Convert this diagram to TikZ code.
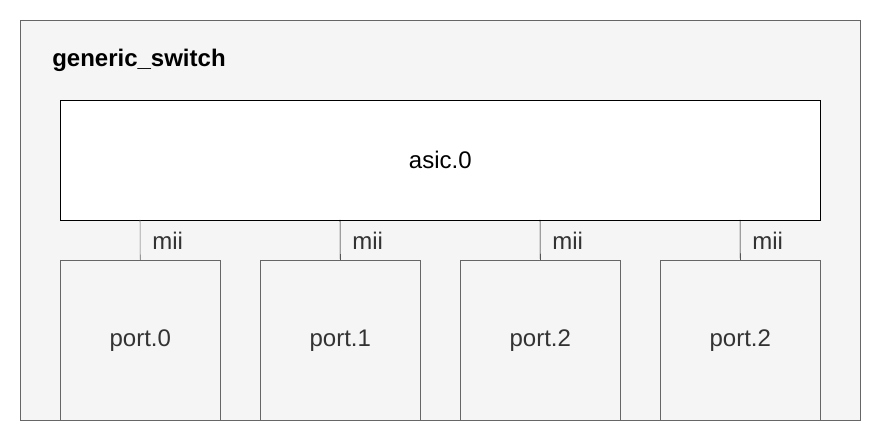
\documentclass[tikz,border=0pt]{standalone}
\usepackage{fontspec}
\setmainfont{Liberation Sans}
\usetikzlibrary{positioning}
\definecolor{myframe}{RGB}{102,102,102}
\definecolor{myfill}{RGB}{245,245,245}
\definecolor{mytext}{RGB}{51,51,51}

\tikzset{
  portbox/.style={draw=myframe, fill=myfill, text=mytext, minimum width=120pt,
    minimum height=120pt, inner sep=0pt, anchor=north west},
  linklabel/.style={font=\fontsize{18}{21}\selectfont, text=mytext, anchor=west, inner sep=0pt}
}

\begin{document}
\begin{tikzpicture}[x=0.75pt, y=-0.75pt, font=\fontsize{18}{21}\selectfont]
  \useasboundingbox (0,0) rectangle (881,441);
  % outer frame
  \node[draw=myframe, fill=myfill, minimum width=630pt, minimum height=300pt,
        inner sep=0pt, anchor=north west] (switch) at (20,20) {};
  \node[font=\bfseries\fontsize{18}{21}\selectfont, anchor=west, inner sep=0pt]
    (title) at (52,60) {generic\_switch};
  % asic
  \node[draw=black, fill=white, minimum width=570pt, minimum height=90pt,
        inner sep=0pt, anchor=north west] (asic) at (60,100) {asic.0};
  % ports
  \foreach \i/\name in {0/port.0, 1/port.1, 2/port.2, 3/port.2}{
    \node[portbox] (port\i) at (60+\i*200,260) {\name};
    \coordinate (top\i) at (140+\i*200,220);
  }
  \draw[myframe] (top0) -- (port0.north);
  \foreach \i in {1,2,3}
    \draw[black] (top\i) -- (port\i.north);
  \foreach \i in {0,...,3}
    \node[linklabel] (mii\i) at (152+\i*200,241) {mii};
\end{tikzpicture}
\end{document}
